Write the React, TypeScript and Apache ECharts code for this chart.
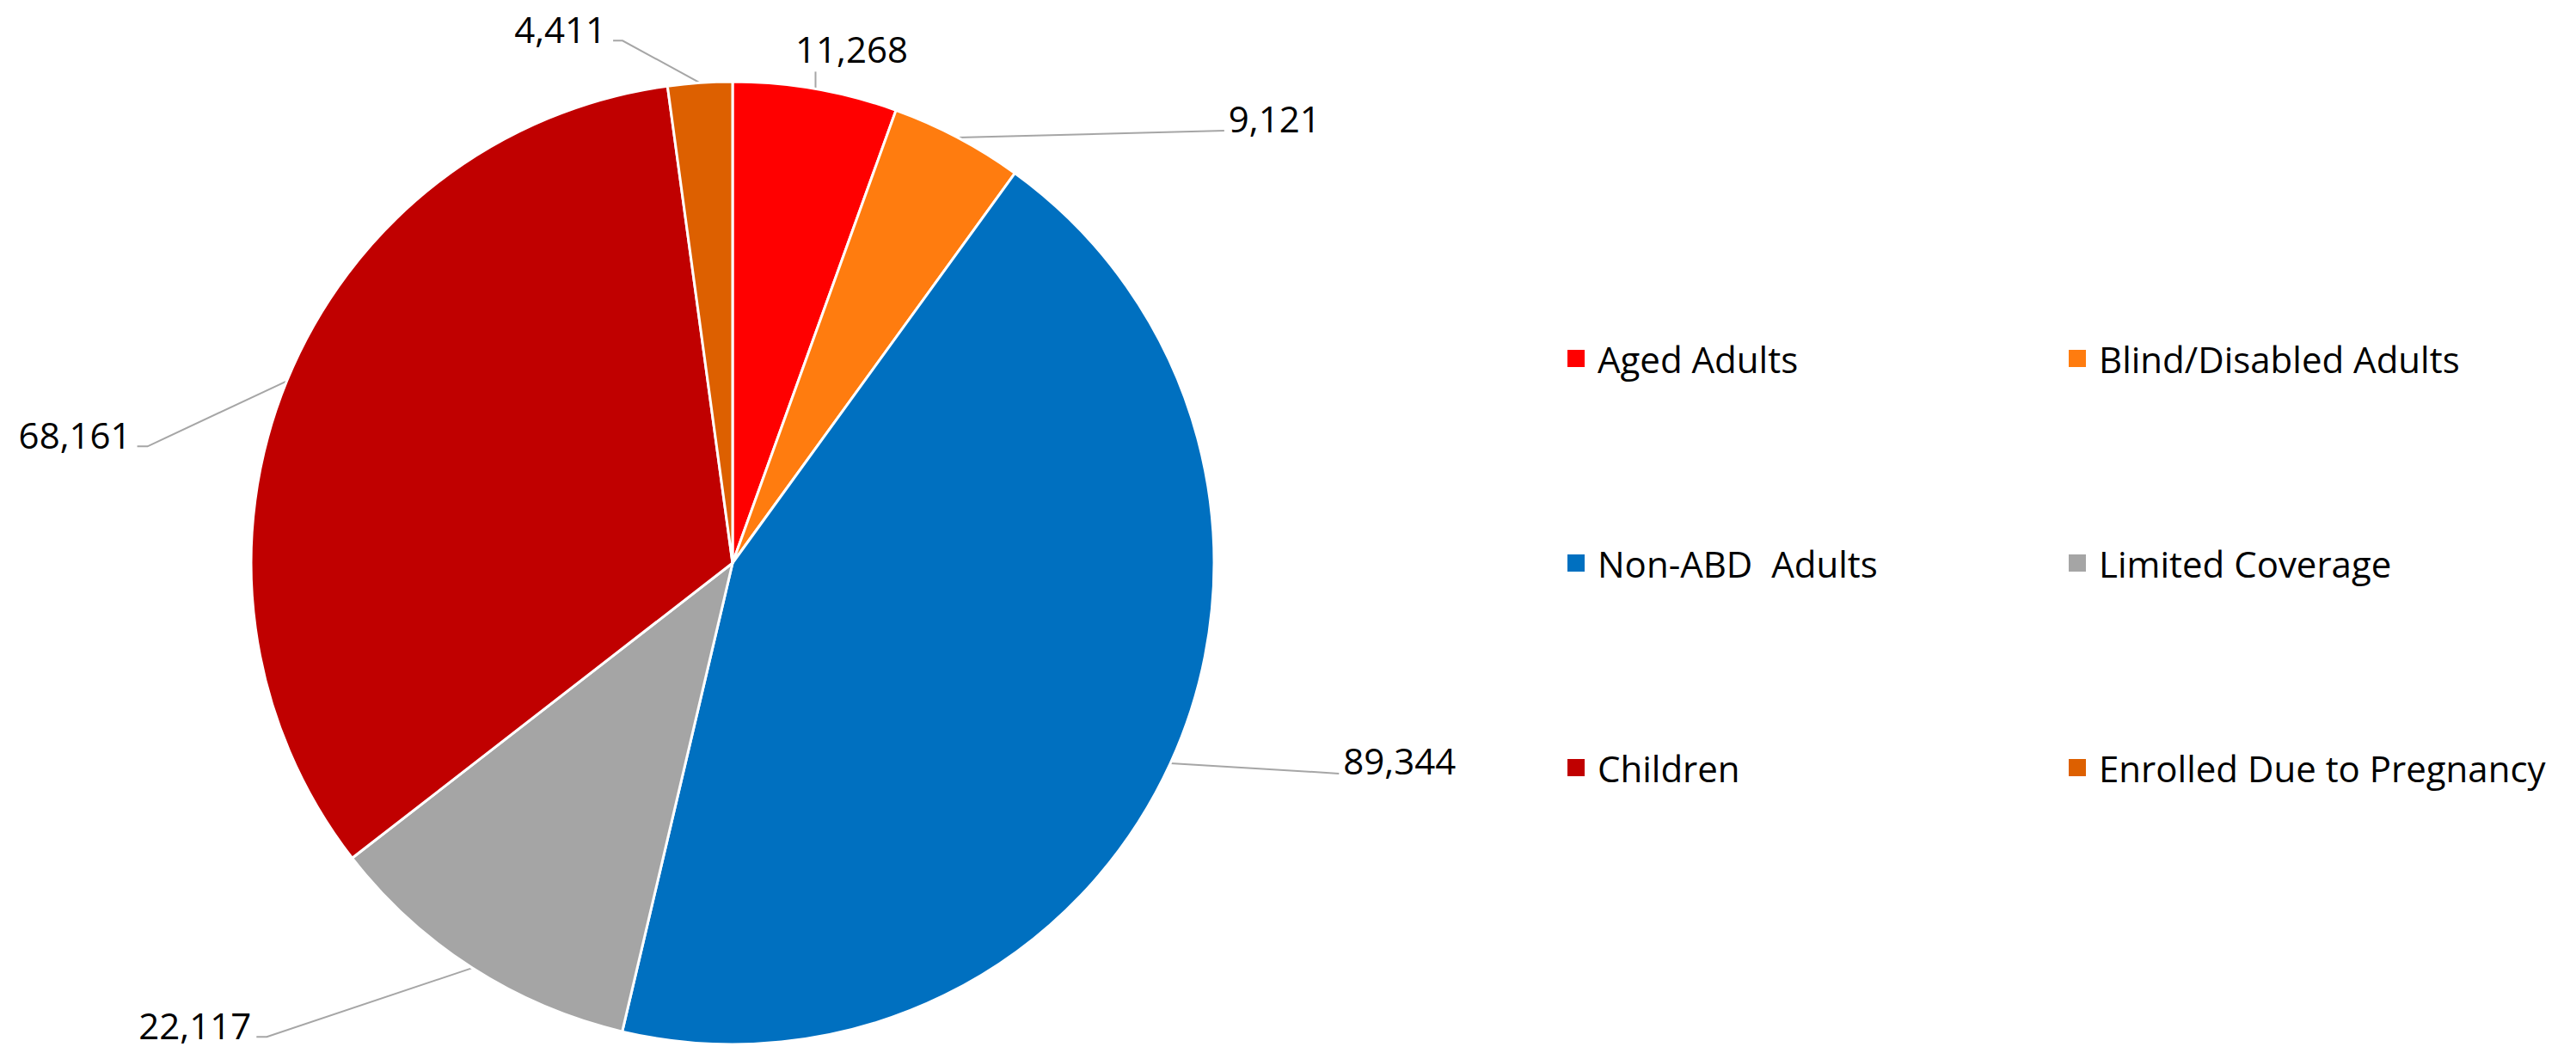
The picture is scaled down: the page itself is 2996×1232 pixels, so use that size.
import React, { useEffect, useRef } from "react";
import * as echarts from "echarts";

const categories = [
  "Aged Adults",
  "Blind/Disabled Adults",
  "Non-ABD  Adults",
  "Limited Coverage",
  "Children",
  "Enrolled Due to Pregnancy",
];
const values = [11268, 9121, 89344, 22117, 68161, 4411];
const colors = ["#FF0000", "#FF7C0F", "#0070C0", "#A5A5A5", "#C00000", "#DD6000"];
const legendCol1 = ["Aged Adults", "Non-ABD  Adults", "Children"];
const legendCol2 = ["Blind/Disabled Adults", "Limited Coverage", "Enrolled Due to Pregnancy"];

// label placement offsets relative to the slice's outer edge point (style only)
const labelStyle = [
  { lx: 42, ly: -47, align: "center", line: [[0, -20]] },
  { lx: 315, ly: -22, align: "left", line: [[310, -8]] },
  { lx: 201, ly: -3, align: "left", line: [[196, 12]] },
  { lx: -257, ly: 66, align: "right", line: [[-239, 80], [-251, 80]] },
  { lx: -181, ly: 62, align: "right", line: [[-162, 76], [-174, 76]] },
  { lx: -109, ly: -63, align: "right", line: [[-90, -49], [-101, -49]] },
];

const FONT = "'Open Sans', 'Noto Sans', sans-serif";

export default function App() {
  const ref = useRef<HTMLDivElement>(null);
  useEffect(() => {
    if (!ref.current) return;
    const chart = echarts.init(ref.current, null, { renderer: "svg" });
    const legendBase = {
      orient: "vertical",
      padding: 0,
      itemWidth: 22,
      itemHeight: 22,
      itemGap: 196,
      icon: "rect",
      selectedMode: false,
      textStyle: {
        fontFamily: FONT,
        fontSize: 42,
        color: "#000",
        lineHeight: 22,
        padding: [0, 0, 0, 9],
      },
    };
    chart.setOption({
      animation: false,
      backgroundColor: "#fff",
      color: colors,
      legend: [
        { ...legendBase, data: legendCol1, left: 1821, top: 396 },
        { ...legendBase, data: legendCol2, left: 2404, top: 396 },
      ],
      series: [
        {
          type: "pie",
          center: [852, 655],
          radius: 560,
          startAngle: 90,
          clockwise: true,
          avoidLabelOverlap: false,
          itemStyle: { borderColor: "#fff", borderWidth: 3 },
          label: {
            show: true,
            position: "outside",
            fontFamily: FONT,
            fontSize: 42,
            color: "#000",
            formatter: (p: any) => Number(p.value).toLocaleString("en-US"),
          },
          labelLine: {
            show: true,
            length: 10,
            length2: 10,
            lineStyle: { color: "#A6A6A6", width: 2 },
          },
          labelLayout: (params: any) => {
            const i = params.dataIndex;
            const s = labelStyle[i];
            let E: number[];
            if (params.labelLinePoints && params.labelLinePoints[0]) {
              E = params.labelLinePoints[0];
            } else {
              const total = values.reduce((a, b) => a + b, 0);
              let cum = 0;
              for (let k = 0; k < i; k++) cum += values[k];
              const ang = ((cum + values[i] / 2) / total) * Math.PI * 2;
              E = [852 + 560 * Math.sin(ang), 655 - 560 * Math.cos(ang)];
            }
            const pts = [[E[0], E[1]]].concat(
              s.line.map((d) => [E[0] + d[0], E[1] + d[1]])
            );
            return {
              x: E[0] + s.lx,
              y: E[1] + s.ly,
              align: s.align,
              verticalAlign: "middle",
              labelLinePoints: pts,
            };
          },
          data: categories.map((name, i) => ({ name, value: values[i] })),
        },
      ],
    });
    return () => chart.dispose();
  }, []);
  return (
    <div
      ref={ref}
      style={{ position: "absolute", left: 0, top: 0, width: 2996, height: 1232 }}
    />
  );
}
